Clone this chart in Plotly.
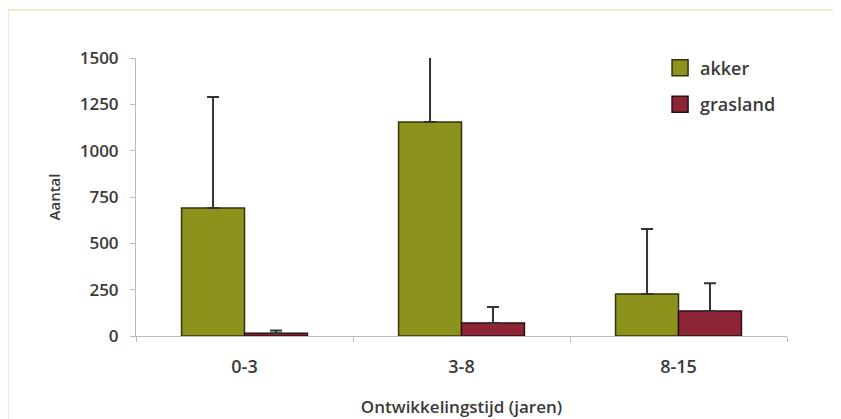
import plotly.graph_objects as go

categories = ["0-3", "3-8", "8-15"]
akker = [690, 1155, 227]
akker_err = [600, 350, 350]
grasland = [15, 70, 135]
grasland_err = [15, 86, 150]
yticks = [0, 250, 500, 750, 1000, 1250, 1500]

font = "Open Sans, Lato, sans-serif"
txt = "#3a3a3a"
c_akker = "#8C921B"
c_gras = "#8E2537"

fig = go.Figure()
fig.add_trace(go.Bar(
    x=categories, y=akker, name="akker", showlegend=False,
    marker=dict(color=c_akker, line=dict(color="#33330c", width=1.5)),
    error_y=dict(type="data", array=akker_err, symmetric=False, arrayminus=[0, 0, 0],
                 color="#333333", thickness=2, width=6),
))
fig.add_trace(go.Bar(
    x=categories, y=grasland, name="grasland", showlegend=False,
    marker=dict(color=c_gras, line=dict(color="#2a1015", width=1.5)),
    error_y=dict(type="data", array=grasland_err, symmetric=False, arrayminus=[0, 0, 0],
                 color="#333333", thickness=2, width=6),
))
# legend entries with larger square swatches
fig.add_trace(go.Scatter(x=[None], y=[None], mode="markers", name="akker", legendgroup="a",
                         marker=dict(symbol="square", size=17, color=c_akker,
                                     line=dict(color="#33330c", width=1.5))))
fig.add_trace(go.Scatter(x=[None], y=[None], mode="markers", name="grasland", legendgroup="g",
                         marker=dict(symbol="square", size=17, color=c_gras,
                                     line=dict(color="#2a1015", width=1.5))))

fig.update_layout(
    width=841, height=419,
    margin=dict(l=128, r=62, t=50, b=91),
    paper_bgcolor="white", plot_bgcolor="white",
    barmode="group", bargap=0.42, bargroupgap=0,
    font=dict(family=font, size=14, color=txt),
    showlegend=True,
    legend=dict(x=0.805, y=1.03, xanchor="left", yanchor="top",
                font=dict(size=18, color=txt, weight=600), bgcolor="rgba(0,0,0,0)",
                itemwidth=30, tracegroupgap=10),
    xaxis=dict(
        automargin=False,
        showline=True, linecolor="#bbbbbb", linewidth=1,
        ticks="outside", tickson="boundaries", ticklen=5, tickcolor="#bbbbbb",
        ticklabelstandoff=14,
        tickfont=dict(size=18, color=txt, weight=600),
        title=dict(text="Ontwikkelingstijd (jaren)", font=dict(size=17, color=txt, weight=600), standoff=24),
    ),
    yaxis=dict(
        automargin=False,
        range=[0, 1500], tickvals=yticks, showgrid=False, zeroline=False,
        showline=True, linecolor="#bbbbbb", linewidth=1,
        ticks="outside", ticklen=5, tickcolor="#bbbbbb",
        ticklabelstandoff=8,
        tickfont=dict(size=17, color=txt, weight=600),
        title=dict(text="Aantal", font=dict(size=15, color=txt, weight=600), standoff=15),
    ),
    shapes=[dict(type="rect", xref="paper", yref="paper",
                 x0=-128 / 651, x1=1.3, y0=-1.0, y1=1 + 48 / 278,
                 line=dict(color="#EDE3B0", width=1.5), fillcolor="rgba(0,0,0,0)",
                 layer="below")],
)

fig.write_html("out.html")
